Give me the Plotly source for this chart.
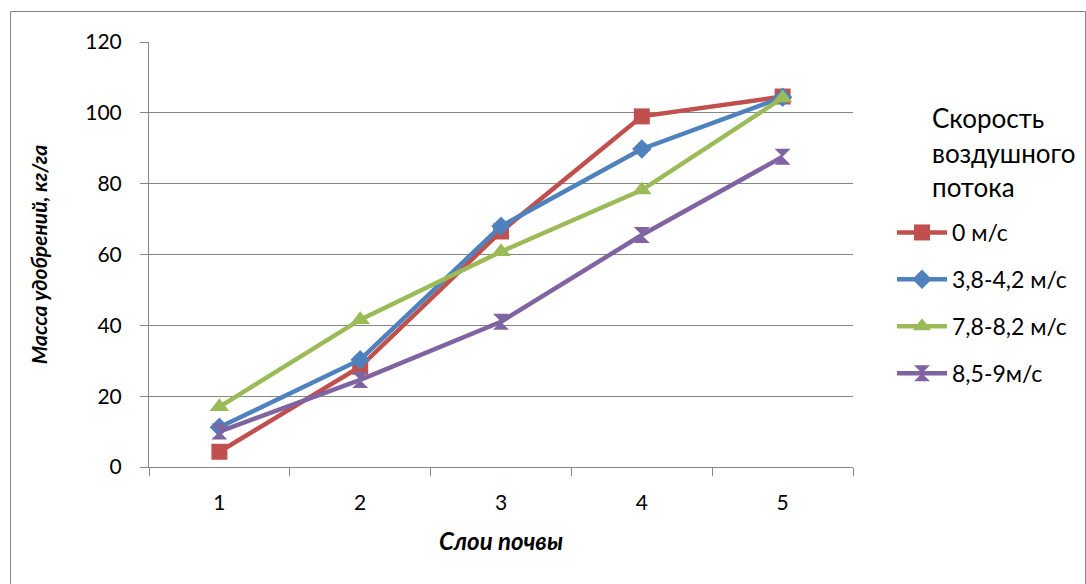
import plotly.graph_objects as go

# Soil layers (category axis) and fertilizer mass per air-flow speed
layers = ["1", "2", "3", "4", "5"]
speed_names = ["0 м/с", "3,8-4,2 м/с", "7,8-8,2 м/с", "8,5-9м/с"]
mass_0 = [4.3, 28.3, 66.5, 99.0, 104.6]
mass_38_42 = [11.2, 30.3, 68.0, 89.8, 104.4]
mass_78_82 = [17.0, 41.6, 60.8, 78.2, 104.2]
mass_85_9 = [10.0, 24.6, 41.0, 65.5, 87.6]
y_ticks = [0, 20, 40, 60, 80, 100, 120]

series = [mass_0, mass_38_42, mass_78_82, mass_85_9]
colors = ["#C0504D", "#4F81BD", "#9BBB59", "#8064A2"]
symbols = ["square", "diamond", "triangle-up", "hourglass"]
sizes = [16, 15, 17, 16]

FONT = "Lato"

fig = go.Figure()
for i, (name, vals) in enumerate(zip(speed_names, series)):
    fig.add_trace(go.Scatter(
        x=layers, y=vals, name=name, mode="lines+markers",
        line=dict(color=colors[i], width=4.5),
        marker=dict(symbol=symbols[i], size=sizes[i], color=colors[i],
                    line=dict(width=0)),
        legendgroup=f"g{i}",
    ))

# Legend heading, three lines
for j, word in enumerate(["Скорость", "воздушного", "потока"]):
    fig.add_annotation(
        text=word, xref="paper", yref="paper",
        x=(930 - 149) / 704, y=(467 - (118 + 34.5 * j)) / 425,
        xanchor="left", yanchor="middle", showarrow=False,
        font=dict(family=FONT, size=26, color="#000000"),
    )

# Outer chart frame
fig.add_shape(
    type="rect", xref="paper", yref="paper",
    x0=(10.5 - 149) / 704, x1=(1085.5 - 149) / 704,
    y0=(467 - 600) / 425, y1=(467 - 11.5) / 425,
    line=dict(color="#868686", width=1), fillcolor="rgba(0,0,0,0)",
    layer="below",
)

fig.update_layout(
    width=1086, height=584,
    margin=dict(l=149, r=233, t=42, b=117),
    paper_bgcolor="white", plot_bgcolor="white",
    font=dict(family=FONT, size=20, color="#000000"),
    showlegend=True,
    legend=dict(
        x=(892 - 149) / 704, y=(467 - 211) / 425,
        xanchor="left", yanchor="top",
        font=dict(family=FONT, size=23, color="#000000"),
        traceorder="grouped", tracegroupgap=14,
        itemwidth=50,
        bgcolor="rgba(0,0,0,0)",
    ),
    xaxis=dict(
        type="category", range=[-0.5, 4.5],
        tickson="boundaries", ticks="outside", ticklen=8,
        tickcolor="#868686", showline=True, linecolor="#868686",
        linewidth=1, showgrid=False, zeroline=False,
        tickfont=dict(family=FONT, size=21, color="#000000"),
        ticklabelstandoff=17,
        title=dict(text="<b><i>Слои почвы</i></b>",
                   font=dict(family=FONT, size=24, color="#000000"),
                   standoff=19),
    ),
    yaxis=dict(
        range=[0, 120], tickvals=y_ticks, ticks="outside", ticklen=8,
        tickcolor="#868686", showline=True, linecolor="#868686",
        linewidth=1, showgrid=True, gridcolor="#868686", gridwidth=1,
        zeroline=False,
        tickfont=dict(family=FONT, size=21, color="#000000"),
        ticklabelstandoff=14,
        title=dict(text="<b><i>Масса удобрений, кг/га</i></b>",
                   font=dict(family=FONT, size=21, color="#000000"),
                   standoff=31),
    ),
)

fig.write_html("out.html")
